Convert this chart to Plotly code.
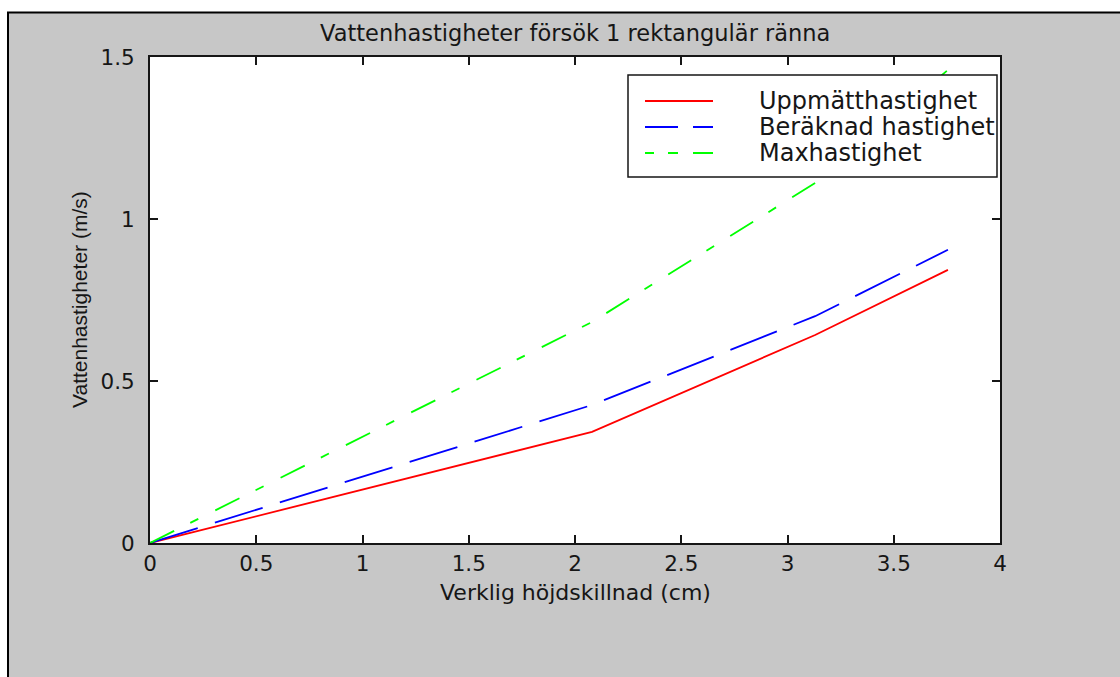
import plotly.graph_objects as go

# Measured height difference (cm) and water velocities (m/s)
hojdskillnad = [0.0, 2.08, 3.13, 3.755]
uppmatt = [0.0, 0.343, 0.642, 0.843]
beraknad = [0.0, 0.426, 0.700, 0.905]
maxhast = [0.0, 0.682, 1.111, 1.46]

series_names = ["Uppmätthastighet", "Beräknad hastighet", "Maxhastighet"]
series_colors = ["#ff0000", "#0000ff", "#00ff00"]

x_ticks = [0, 0.5, 1, 1.5, 2, 2.5, 3, 3.5, 4]
y_ticks = [0, 0.5, 1, 1.5]

W, H = 1120, 677
L, R, T, B = 150, 120, 57, 134
PW, PH = W - L - R, H - T - B


def px(xpix):
    return (xpix - L) / PW


def py(ypix):
    return 1 - (ypix - T) / PH


FONT = "DejaVu Sans"
INK = "#161616"
GRAY = "#c7c7c7"

fig = go.Figure()
line_styles = [
    dict(color=series_colors[0], width=1.8, dash="solid"),
    dict(color=series_colors[1], width=1.8, dash="50px,18px"),
    dict(color=series_colors[2], width=1.8, dash="27px,18px,9px,19px"),
]
for name, ys, st in zip(series_names, [uppmatt, beraknad, maxhast], line_styles):
    fig.add_trace(go.Scatter(x=hojdskillnad, y=ys, mode="lines", name=name,
                             line=st, showlegend=False))

axis_common = dict(
    showline=True, linewidth=2, linecolor=INK, mirror="ticks",
    ticks="inside", ticklen=8, tickwidth=1.5, tickcolor=INK,
    showgrid=False, zeroline=False,
    tickfont=dict(family=FONT, size=21.5, color=INK),
)
fig.update_xaxes(range=[0, 4], tickvals=x_ticks, ticklabelstandoff=0, **axis_common)
fig.update_yaxes(range=[0, 1.5], tickvals=y_ticks, ticklabelstandoff=9, **axis_common)

shapes = [
    # white page strips and black frame of the figure window
    dict(type="rect", xref="paper", yref="paper", x0=px(0), x1=px(W), y0=py(0), y1=py(12),
         fillcolor="white", line=dict(width=0), layer="below"),
    dict(type="rect", xref="paper", yref="paper", x0=px(0), x1=px(7), y0=py(0), y1=py(H),
         fillcolor="white", line=dict(width=0), layer="below"),
    dict(type="line", xref="paper", yref="paper", x0=px(7), x1=px(W), y0=py(12.5), y1=py(12.5),
         line=dict(color="black", width=2)),
    dict(type="line", xref="paper", yref="paper", x0=px(8), x1=px(8), y0=py(12), y1=py(H),
         line=dict(color="black", width=2)),
    # legend box
    dict(type="rect", xref="paper", yref="paper", x0=px(628), x1=px(997), y0=py(75), y1=py(177),
         fillcolor="white", line=dict(color=INK, width=1.5)),
]

legend_rows = [101, 127, 153]
legend_dash = ["solid", "33px,15px", "9px,14px,10px,15px,20px"]
annotations = []
for name, color, dash, ry in zip(series_names, series_colors, legend_dash, legend_rows):
    shapes.append(dict(type="line", xref="paper", yref="paper", x0=px(645), x1=px(713),
                       y0=py(ry), y1=py(ry), line=dict(color=color, width=1.8, dash=dash)))
    annotations.append(dict(text=name, xref="paper", yref="paper", x=px(757), y=py(ry),
                            xanchor="left", yanchor="middle", showarrow=False,
                            font=dict(family=FONT, size=24, color=INK)))

annotations += [
    dict(text="Vattenhastigheter försök 1 rektangulär ränna", xref="paper", yref="paper",
         x=px(575), y=py(33), xanchor="center", yanchor="middle", showarrow=False,
         font=dict(family=FONT, size=22.5, color=INK)),
    dict(text="Verklig höjdskillnad (cm)", xref="paper", yref="paper",
         x=px(575), y=py(592), xanchor="center", yanchor="middle", showarrow=False,
         font=dict(family=FONT, size=22, color=INK)),
    dict(text="Vattenhastigheter (m/s)", xref="paper", yref="paper",
         x=px(79), y=py(300), xanchor="center", yanchor="middle", showarrow=False,
         textangle=-90, font=dict(family="Liberation Sans", size=21, color=INK)),
]

fig.update_layout(
    width=W, height=H,
    margin=dict(l=L, r=R, t=T, b=B, pad=0),
    paper_bgcolor=GRAY, plot_bgcolor="white",
    shapes=shapes, annotations=annotations,
    showlegend=False,
)

fig.write_html("out.html", config={"displayModeBar": False})
